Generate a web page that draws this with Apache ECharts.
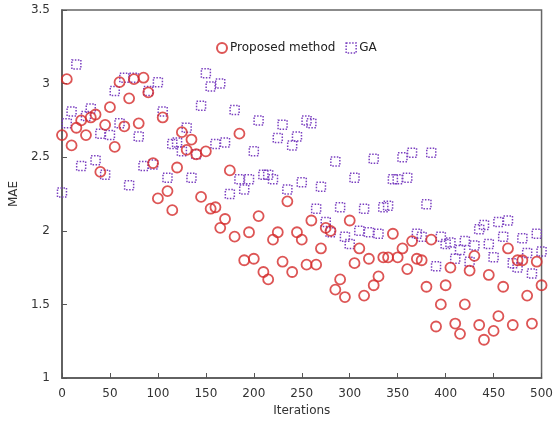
<!DOCTYPE html>
<html>
<head>
<meta charset="utf-8">
<script src="https://cdn.jsdelivr.net/npm/echarts@6/dist/echarts.min.js"></script>
<style>
  html, body { margin: 0; padding: 0; background: #fff; }
  #chart { width: 556px; height: 424px; }
</style>
</head>
<body>
<div id="chart"></div>
<script>
// iterations sampled every 5 steps
const iterations = [];
for (let i = 0; i <= 500; i += 5) iterations.push(i);

const proposed = [
  2.65, 3.03, 2.58, 2.70, 2.75, 2.65, 2.77, 2.79, 2.40, 2.72,
  2.84, 2.57, 3.01, 2.71, 2.90, 3.03, 2.73, 3.04, 2.94, 2.46,
  2.22, 2.77, 2.27, 2.14, 2.43, 2.67, 2.55, 2.62, 2.52, 2.23,
  2.54, 2.15, 2.16, 2.02, 2.08, 2.41, 1.96, 2.66, 1.80, 1.99,
  1.81, 2.10, 1.72, 1.67, 1.94, 1.99, 1.79, 2.20, 1.72, 1.99,
  1.94, 1.77, 2.07, 1.77, 1.88, 2.02, 2.00, 1.60, 1.67, 1.55,
  2.07, 1.78, 1.88, 1.56, 1.81, 1.63, 1.69, 1.82, 1.82, 1.98,
  1.82, 1.88, 1.74, 1.93, 1.81, 1.80, 1.62, 1.94, 1.35, 1.50,
  1.63, 1.75, 1.37, 1.30, 1.50, 1.73, 1.83, 1.36, 1.26, 1.70,
  1.32, 1.42, 1.62, 1.88, 1.36, 1.80, 1.80, 1.56, 1.37, 1.79,
  1.63
];

const ga = [
  2.26, 2.73, 2.81, 3.13, 2.44, 2.78, 2.83, 2.48, 2.66, 2.38,
  2.65, 2.95, 2.73, 3.04, 2.31, 3.04, 2.64, 2.44, 2.95, 2.45,
  3.01, 2.81, 2.36, 2.59, 2.60, 2.54, 2.70, 2.36, 2.52, 2.85,
  3.07, 2.98, 2.59, 3.00, 2.60, 2.25, 2.82, 2.35, 2.28, 2.35,
  2.54, 2.75, 2.38, 2.38, 2.35, 2.63, 2.72, 2.28, 2.58, 2.64,
  2.33, 2.75, 2.73, 2.15, 2.30, 2.06, 1.99, 2.47, 2.16, 1.96,
  1.91, 2.36, 2.00, 2.15, 1.99, 2.49, 1.98, 2.16, 2.17, 2.35,
  2.35, 2.50, 2.36, 2.53, 1.98, 1.96, 2.18, 2.53, 1.76, 1.96,
  1.91, 1.92, 1.81, 1.87, 1.93, 1.79, 1.90, 2.01, 2.04, 1.91,
  1.82, 2.06, 1.96, 2.07, 1.78, 1.75, 1.95, 1.85, 1.71, 1.98,
  1.86
];

const xTicks = [0, 500, 50];      // min, max, interval
const yTicks = [1, 3.5, 0.5];

const gaColor = '#7a3fc0';
const dotted = { fill: 'none', stroke: gaColor, lineWidth: 1.5, lineDash: [1.5, 1.5] };

const font = 'DejaVu Sans, Verdana, sans-serif';
const chart = echarts.init(document.getElementById('chart'));
chart.setOption({
  animation: false,
  textStyle: { fontFamily: font },
  grid: { left: 61, right: 13, top: 10, bottom: 46, show: true,
          borderColor: '#666', borderWidth: 1.5, backgroundColor: '#fff' },
  legend: {
    left: 211, top: 37, itemWidth: 10, itemHeight: 10, itemGap: 10,
    textStyle: { fontFamily: font, fontSize: 12, color: '#222', padding: [0, 0, 0, -2] },
    data: [
      { name: 'Proposed method', icon: 'circle' },
      { name: 'GA', icon: 'rect',
        itemStyle: { color: 'rgba(0,0,0,0)', borderColor: gaColor, borderWidth: 1.5, borderType: [1.5, 1.5] } }
    ]
  },
  xAxis: {
    type: 'value', min: xTicks[0], max: xTicks[1], interval: xTicks[2],
    name: 'Iterations', nameLocation: 'middle', nameGap: 24,
    nameTextStyle: { fontSize: 12, color: '#333' },
    axisLine: { lineStyle: { color: '#555', width: 1.5 } },
    axisTick: { inside: true, length: 5, lineStyle: { color: '#555' } },
    axisLabel: { fontSize: 12, color: '#333', margin: 10 },
    splitLine: { show: false }
  },
  yAxis: {
    type: 'value', min: yTicks[0], max: yTicks[1], interval: yTicks[2],
    name: 'MAE', nameLocation: 'middle', nameGap: 36,
    nameTextStyle: { fontSize: 12, color: '#333' },
    axisLine: { show: true, lineStyle: { color: '#555', width: 1.5 } },
    axisTick: { show: true, inside: true, length: 5, lineStyle: { color: '#555' } },
    axisLabel: { fontSize: 12, color: '#333', margin: 12 },
    splitLine: { show: false }
  },
  series: [
    {
      name: 'Proposed method', type: 'scatter', symbol: 'circle', symbolSize: 10,
      itemStyle: { color: 'rgba(0,0,0,0)', borderColor: '#d42a2a', borderWidth: 1.8 },
      data: iterations.map((x, i) => [x, proposed[i]])
    },
    {
      name: 'GA', type: 'custom',
      itemStyle: { color: gaColor },
      encode: { x: 0, y: 1 },
      data: iterations.map((x, i) => [x, ga[i]]),
      renderItem: function (params, api) {
        const p = api.coord([api.value(0), api.value(1)]);
        return { type: 'rect', shape: { x: p[0] - 4.5, y: p[1] - 4.5, width: 9, height: 9 }, style: dotted };
      }
    }
  ]
});
</script>
</body>
</html>
